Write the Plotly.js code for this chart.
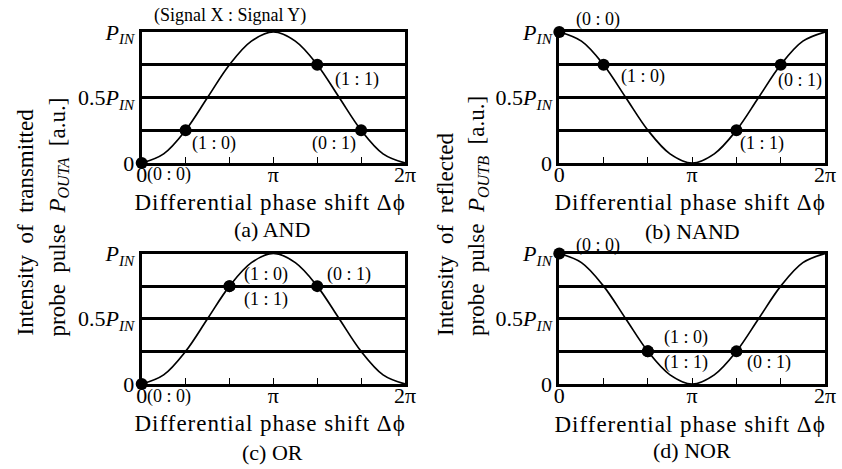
<!DOCTYPE html>
<html>
<head>
<meta charset="utf-8">
<script src="https://cdn.plot.ly/plotly-3.0.1.min.js"></script>
<style>html,body{margin:0;padding:0;background:#fff;}#chart{width:842px;height:469px;}</style>
</head>
<body>
<div id="chart"></div>
<script>
// ---- data ----
const PHASE_DEG = [0, 30, 60, 90, 120, 150, 180, 210, 240, 270, 300, 330, 360];
const TRANSMITTED = [0, 0.07, 0.25, 0.5, 0.75, 0.93, 1, 0.93, 0.75, 0.5, 0.25, 0.07, 0];   // P_OUTA / P_IN
const REFLECTED   = [1, 0.93, 0.75, 0.5, 0.25, 0.07, 0, 0.07, 0.25, 0.5, 0.75, 0.93, 1];   // P_OUTB / P_IN

const AND_PHASE  = [0, 60, 240, 300];
const AND_VALUE  = [0, 0.25, 0.75, 0.25];
const AND_LABELS = ['(0 : 0)', '(1 : 0)', '(1 : 1)', '(0 : 1)'];

const NAND_PHASE  = [0, 60, 300, 240];
const NAND_VALUE  = [1, 0.75, 0.75, 0.25];
const NAND_LABELS = ['(0 : 0)', '(1 : 0)', '(0 : 1)', '(1 : 1)'];

const OR_PHASE  = [0, 120, 120, 240];
const OR_VALUE  = [0, 0.75, 0.75, 0.75];
const OR_LABELS = ['(0 : 0)', '(1 : 0)', '(1 : 1)', '(0 : 1)'];

const NOR_PHASE  = [0, 120, 120, 240];
const NOR_VALUE  = [1, 0.25, 0.25, 0.25];
const NOR_LABELS = ['(0 : 0)', '(1 : 0)', '(1 : 1)', '(0 : 1)'];

const X_TICKVALS = [0, 60, 120, 180, 240, 300, 360];
const X_TICKTEXT = ['0', '', '', 'π', '', '', '2π'];
const Y_TICKVALS = [0, 0.25, 0.5, 0.75, 1];
const Y_TICKTEXT = ['0', '', '0.5<i>P</i><sub><i>IN</i></sub>', '', '<i>P</i><sub><i>IN</i></sub>'];

const X_TITLE = 'Differential phase shift Δϕ';
const PANEL_TITLES = ['(a) AND', '(b) NAND', '(c) OR', '(d) NOR'];
const Y_TITLE_LEFT  = ['Intensity  of  transmitted', 'probe  pulse  <i>P</i><sub><i>OUTA</i></sub>  [a.u.]'];
const Y_TITLE_RIGHT = ['Intensity  of  reflected', 'probe  pulse  <i>P</i><sub><i>OUTB</i></sub>  [a.u.]'];
const HEADER = '(Signal X : Signal Y)';

// ---- styling ----
const W = 842, H = 469;
const FONT = 'Liberation Serif';
const px = v => v / W, py = v => 1 - v / H;

// label offsets in pixels [xshift, yshift]
const OFF = {
  a: [[27, -12], [28, -13], [40, -15], [-27, -13]],
  b: [[39, 12], [39, -12], [19, -16], [26, -13]],
  c: [[27, -12], [37, 12], [37, -13], [32, 12]],
  d: [[39, 8], [38, 14], [38, -11], [33, -11]]
};

const panels = [
  {k: 'a', xa: 'x',  ya: 'y',  curve: TRANSMITTED, ph: AND_PHASE,  v: AND_VALUE,  lab: AND_LABELS},
  {k: 'b', xa: 'x2', ya: 'y2', curve: REFLECTED,   ph: NAND_PHASE, v: NAND_VALUE, lab: NAND_LABELS},
  {k: 'c', xa: 'x3', ya: 'y3', curve: TRANSMITTED, ph: OR_PHASE,   v: OR_VALUE,   lab: OR_LABELS},
  {k: 'd', xa: 'x4', ya: 'y4', curve: REFLECTED,   ph: NOR_PHASE,  v: NOR_VALUE,  lab: NOR_LABELS}
];

const traces = [];
const annotations = [];
panels.forEach(p => {
  traces.push({
    x: PHASE_DEG, y: p.curve, xaxis: p.xa, yaxis: p.ya, type: 'scatter', mode: 'lines',
    line: {color: '#000', width: 1.7, shape: 'spline', smoothing: 1}, cliponaxis: false,
    hoverinfo: 'skip', showlegend: false
  });
  traces.push({
    x: p.ph, y: p.v, xaxis: p.xa, yaxis: p.ya, type: 'scatter', mode: 'markers',
    marker: {color: '#000', size: 12}, cliponaxis: false, showlegend: false
  });
  p.lab.forEach((t, i) => {
    annotations.push({
      text: t, x: p.ph[i], y: p.v[i], xref: p.xa, yref: p.ya,
      xshift: OFF[p.k][i][0], yshift: OFF[p.k][i][1], showarrow: false,
      xanchor: 'center', yanchor: 'middle', font: {family: FONT, size: 18, color: '#000'}
    });
  });
});

function ann(x, y, text, size, extra) {
  return Object.assign({text: text, x: px(x), y: py(y), xref: 'paper', yref: 'paper', showarrow: false,
    xanchor: 'center', yanchor: 'middle', font: {family: FONT, size: size, color: '#000'}}, extra || {});
}

// axis titles & panel captions
annotations.push(ann(270, 203, X_TITLE, 23));
annotations.push(ann(690, 203, X_TITLE, 23));
annotations.push(ann(270, 423, X_TITLE, 23));
annotations.push(ann(690, 424, X_TITLE, 23));
annotations.push(ann(272, 230, PANEL_TITLES[0], 22));
annotations.push(ann(692, 231, PANEL_TITLES[1], 22));
annotations.push(ann(272, 452, PANEL_TITLES[2], 22));
annotations.push(ann(692, 450, PANEL_TITLES[3], 22));
annotations.push(ann(230, 15, HEADER, 18));
// rotated y titles
annotations.push(ann(25, 338, Y_TITLE_LEFT[0], 23, {textangle: -90, yanchor: 'bottom'}));
annotations.push(ann(58, 338, Y_TITLE_LEFT[1], 23, {textangle: -90, yanchor: 'bottom'}));
annotations.push(ann(445, 338, Y_TITLE_RIGHT[0], 23, {textangle: -90, yanchor: 'bottom'}));
annotations.push(ann(478, 338, Y_TITLE_RIGHT[1], 23, {textangle: -90, yanchor: 'bottom'}));

function xax(domain, anchor) {
  return {domain: domain, anchor: anchor, range: [0, 360], tickvals: X_TICKVALS, ticktext: X_TICKTEXT,
    ticks: 'inside', ticklen: 6, tickwidth: 1.2, tickcolor: '#000', showgrid: false, zeroline: false,
    showline: true, linewidth: 3, linecolor: '#000', mirror: true, ticklabelstandoff: -10,
    tickfont: {family: FONT, size: 22, color: '#000'}, fixedrange: true};
}
function yax(domain, anchor) {
  return {domain: domain, anchor: anchor, range: [0, 1], tickvals: Y_TICKVALS, ticktext: Y_TICKTEXT,
    ticks: '', showgrid: true, gridcolor: '#000', gridwidth: 3, zeroline: false,
    showline: true, linewidth: 3, linecolor: '#000', mirror: true,
    tickfont: {family: FONT, size: 22, color: '#000'}, fixedrange: true};
}

const XL = [px(141.7), px(405)], XR = [px(559.3), px(825)];
const YT = [py(163), py(32)], YB = [py(384), py(253.5)];

const layout = {
  width: W, height: H, margin: {l: 0, r: 0, t: 0, b: 0},
  paper_bgcolor: '#fff', plot_bgcolor: '#fff', showlegend: false,
  font: {family: FONT, color: '#000'},
  xaxis: xax(XL, 'y'), yaxis: yax(YT, 'x'),
  xaxis2: xax(XR, 'y2'), yaxis2: yax(YT, 'x2'),
  xaxis3: xax(XL, 'y3'), yaxis3: yax(YB, 'x3'),
  xaxis4: xax(XR, 'y4'), yaxis4: yax(YB, 'x4'),
  annotations: annotations
};

Plotly.newPlot('chart', traces, layout, {displayModeBar: false, staticPlot: true}).then(gd => {
  gd.querySelectorAll('.annotation-text').forEach(t => {
    if (t.textContent.indexOf('Differential') === 0) t.style.letterSpacing = '1px';
  });
});
</script>
</body>
</html>
